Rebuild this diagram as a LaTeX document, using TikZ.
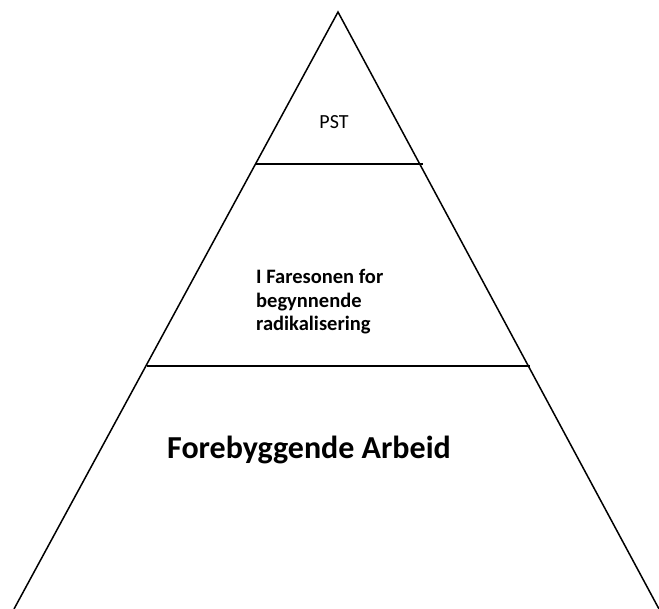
\documentclass[tikz,border=0pt]{standalone}
\usepackage{fontspec}
\setmainfont{Carlito}
\begin{document}
\begin{tikzpicture}[x=1pt,y=-1pt,
  edge/.style={line width=1.5pt,black},
  lbl/.style={inner sep=0pt}]
\useasboundingbox (0,0) rectangle (659,609);
\coordinate (apex) at (338,12);
\coordinate (bl) at (14,609);
\coordinate (br) at (659,609);
\draw[edge] (bl) -- (apex) -- (br);
\coordinate (l1a) at (255,164);
\coordinate (l1b) at (423,164);
\draw[edge] (l1a) -- (l1b);
\coordinate (l2a) at (147,366);
\coordinate (l2b) at (530,366);
\draw[edge] (l2a) -- (l2b);
\node[lbl, anchor=base, font=\fontsize{20}{24}\selectfont] (pst) at (334,129) {PST};
\node[lbl, anchor=base west, align=left, font=\fontsize{20.5}{23.5}\selectfont\bfseries] (fare) at (256,331) {I Faresonen for\\begynnende\\radikalisering};
\node[lbl, anchor=base west, font=\fontsize{32}{36}\selectfont\bfseries] (fore) at (167,459) {Forebyggende Arbeid};
\end{tikzpicture}
\end{document}
